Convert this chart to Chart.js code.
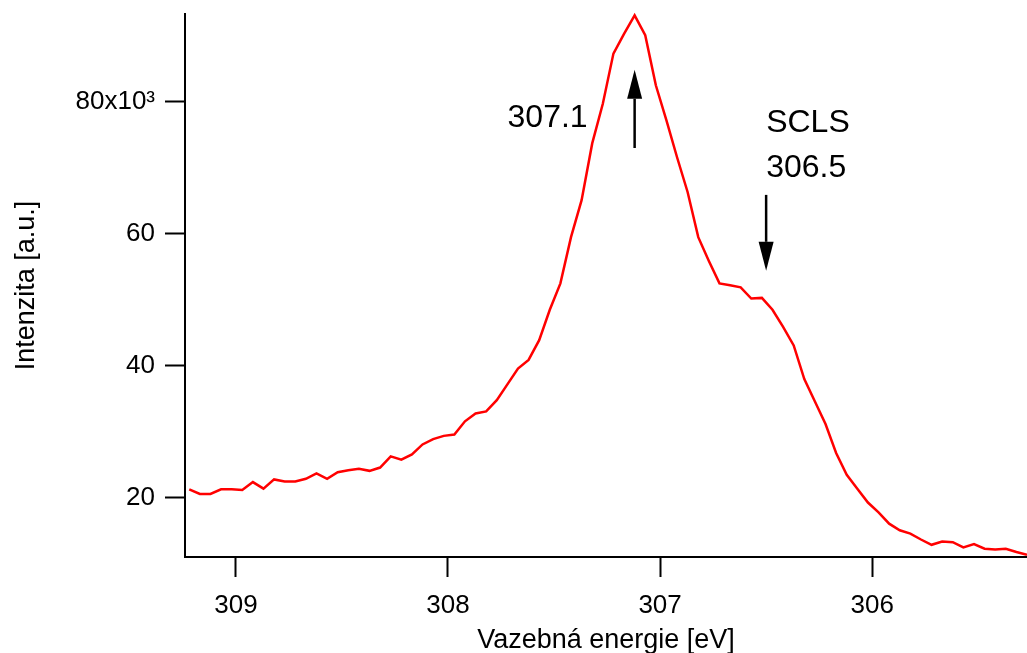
<!DOCTYPE html>
<html>
<head>
<meta charset="utf-8">
<script src="https://cdn.jsdelivr.net/npm/chart.js@4.4.1/dist/chart.umd.min.js"></script>
<style>
  html, body { margin: 0; padding: 0; background: #fff; }
  canvas { display: block; }
</style>
</head>
<body>
<canvas id="myChart" width="1027" height="653"></canvas>
<script>
// Binding energy [eV] of each measured point
var energies = [
  309.22, 309.17, 309.12, 309.07, 309.02, 308.97, 308.92, 308.87, 308.82, 308.77,
  308.72, 308.67, 308.62, 308.57, 308.52, 308.47, 308.42, 308.37, 308.32, 308.27,
  308.22, 308.17, 308.12, 308.07, 308.02, 307.97, 307.92, 307.87, 307.82, 307.77,
  307.72, 307.67, 307.62, 307.57, 307.52, 307.47, 307.42, 307.37, 307.32, 307.27,
  307.22, 307.17, 307.12, 307.07, 307.02, 306.97, 306.92, 306.87, 306.82, 306.77,
  306.72, 306.67, 306.62, 306.57, 306.52, 306.47, 306.42, 306.37, 306.32, 306.27,
  306.22, 306.17, 306.12, 306.07, 306.02, 305.97, 305.92, 305.87, 305.82, 305.77,
  305.72, 305.67, 305.62, 305.57, 305.52, 305.47, 305.42, 305.37, 305.32, 305.27
];

// Intensity [a.u.]
var intensity = [
  21300, 20600, 20600, 21300, 21300, 21200, 22400, 21400, 22800, 22500,
  22500, 22900, 23700, 22900, 23900, 24200, 24400, 24100, 24600, 26300,
  25800, 26600, 28100, 28900, 29400, 29600, 31600, 32800, 33100, 34800,
  37200, 39600, 40900, 43900, 48500, 52500, 59500, 65100, 73700, 79700,
  87300, 90300, 93100, 90100, 82500, 77200, 71600, 66300, 59500, 55900,
  52500, 52200, 51900, 50200, 50300, 48500, 45900, 43100, 38000, 34600,
  31200, 26800, 23500, 21400, 19300, 17800, 16100, 15100, 14600, 13700,
  12900, 13400, 13300, 12500, 13000, 12300, 12200, 12300, 11800, 11400
];

// Tick labels
var xTicks = [306, 307, 308, 309];
var yTicks = [20000, 40000, 60000, 80000];

var family = '"Liberation Sans", Arial, Helvetica, sans-serif';

// Draw an arrow from y0 to the tip at y1 (pixels)
function arrow(ctx, px, y0, y1) {
  var dir = y1 > y0 ? 1 : -1;
  var head = 29;
  ctx.beginPath();
  ctx.moveTo(px, y0);
  ctx.lineTo(px, y1 - dir * head);
  ctx.stroke();
  ctx.beginPath();
  ctx.moveTo(px, y1);
  ctx.lineTo(px - 7.5, y1 - dir * head);
  ctx.lineTo(px + 7.5, y1 - dir * head);
  ctx.closePath();
  ctx.fill();
}

// Arrows and peak labels
var notes = {
  id: 'notes',
  afterDatasetsDraw: function (chart) {
    var ctx = chart.ctx;
    var x = chart.scales.x;
    var y = chart.scales.y;
    ctx.save();
    ctx.fillStyle = '#000';
    ctx.strokeStyle = '#000';
    ctx.lineWidth = 2.5;
    arrow(ctx, x.getPixelForValue(307.12), y.getPixelForValue(73000), y.getPixelForValue(84850));
    arrow(ctx, x.getPixelForValue(306.5), y.getPixelForValue(65900), y.getPixelForValue(54400));

    ctx.font = '32px ' + family;
    ctx.textBaseline = 'middle';
    ctx.textAlign = 'right';
    ctx.fillText('307.1', x.getPixelForValue(307.12) - 47, y.getPixelForValue(77550));
    ctx.textAlign = 'left';
    ctx.fillText('SCLS', x.getPixelForValue(306.5), y.getPixelForValue(76700));
    ctx.fillText('306.5', x.getPixelForValue(306.5), y.getPixelForValue(69900));
    ctx.restore();
  }
};

var ctx = document.getElementById('myChart').getContext('2d');

var data = {
  datasets: [
    {
      data: energies.map(function (e, i) { return { x: e, y: intensity[i] }; }),
      borderColor: 'rgb(255, 0, 0)',
      borderWidth: 2.5,
      pointRadius: 0,
      tension: 0,
      fill: false,
      clip: false,
    },
  ],
};

var options = {
  responsive: false,
  animation: false,
  layout: { padding: { top: 14, right: 0, left: 0, bottom: 0 } },
  plugins: {
    legend: { display: false },
    tooltip: { enabled: false },
  },
  scales: {
    x: {
      type: 'linear',
      reverse: true,
      min: 305.27,
      max: 309.24,
      border: { color: '#000', width: 2 },
      grid: { drawOnChartArea: false, tickLength: 20, tickColor: '#000', tickWidth: 2 },
      ticks: { color: '#000', font: { size: 26, family: family }, padding: 13, maxRotation: 0 },
      afterBuildTicks: function (s) { s.ticks = xTicks.map(function (v) { return { value: v }; }); },
      afterFit: function (s) { s.height = 96; s.paddingLeft = 0; s.paddingRight = 0; },
      title: { display: true, text: 'Vazebná energie [eV]', color: '#000', font: { size: 27, family: family }, padding: { top: 0, bottom: -4 } },
    },
    y: {
      min: 11050,
      max: 93300,
      border: { color: '#000', width: 2 },
      grid: { drawOnChartArea: false, tickLength: 20, tickColor: '#000', tickWidth: 2 },
      ticks: {
        color: '#000',
        font: { size: 26, family: family },
        padding: 10,
        callback: function (v) { return v === 80000 ? '80x10³' : String(v / 1000); },
      },
      afterBuildTicks: function (s) { s.ticks = yTicks.map(function (v) { return { value: v }; }); },
      afterFit: function (s) { s.width = 185; s.paddingTop = 0; s.paddingBottom = 0; },
      title: { display: true, text: 'Intenzita [a.u.]', color: '#000', font: { size: 27, family: family }, padding: { top: 10, bottom: 0 } },
    },
  },
};

var myChart = new Chart(ctx, {
  type: 'line',
  data: data,
  options: options,
  plugins: [notes],
});
</script>
</body>
</html>
